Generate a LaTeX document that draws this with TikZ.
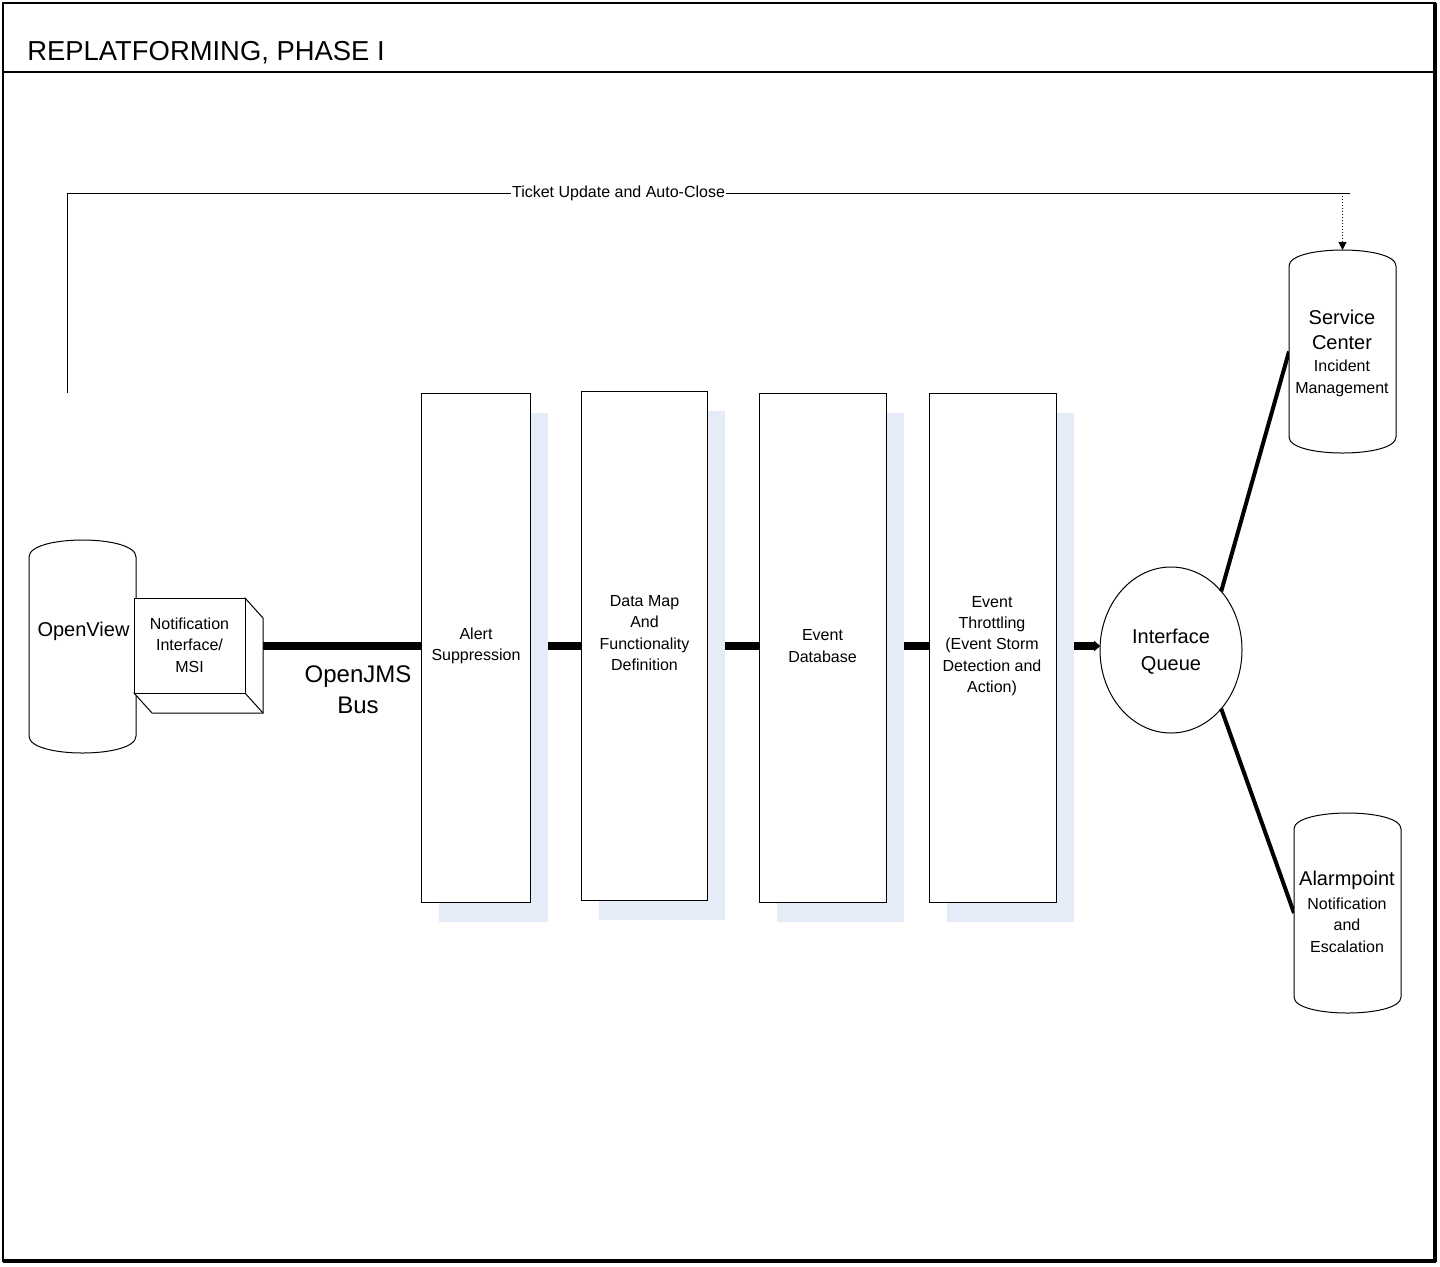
\documentclass[tikz,border=0pt]{standalone}
\usepackage{fontspec}
\setmainfont{Liberation Sans}
\usetikzlibrary{arrows.meta,shapes.geometric,calc}
\definecolor{shadowblue}{HTML}{E6ECF7}
\newcommand\fsm{\fontsize{8}{10.7}\selectfont}
\newcommand\fmd{\fontsize{10}{12.5}\selectfont}
\newcommand\fbg{\fontsize{12}{15.5}\selectfont}
\newcommand\fttl{\fontsize{13.7}{16}\selectfont}
\newcommand\mycyl[2]{\draw[thinline,fill=white] ($(#1.north west)+(0,#2)$) .. controls ($(#1.north west)+(0,-#2/3)$) and ($(#1.north east)+(0,-#2/3)$) .. ($(#1.north east)+(0,#2)$) -- ($(#1.south east)+(0,-#2)$) .. controls ($(#1.south east)+(0,#2/3)$) and ($(#1.south west)+(0,#2/3)$) .. ($(#1.south west)+(0,-#2)$) -- cycle;}
\begin{document}
\begin{tikzpicture}[x=0.5pt,y=-0.5pt,
  thinline/.style={line width=0.5pt,draw=black},
  ghost/.style={rectangle,inner sep=0pt,outer sep=0pt},
  stage/.style={rectangle,draw=black,line width=0.5pt,fill=white,inner sep=0pt,outer sep=0pt,minimum height=254.5pt},
  shade/.style={fill=shadowblue,draw=none},
  bus/.style={line width=4pt,draw=black},
  link/.style={line width=2pt,draw=black},
  smalltext/.style={font=\fsm,align=center,inner sep=0pt},
  midtext/.style={font=\fmd,align=center,inner sep=0pt}]
\useasboundingbox (0,0) rectangle (1440,1266);
% frame
\draw[line width=1pt] (3,3) rectangle (1435,1261);
\draw[line width=2pt] (1435,3) -- (1435,1262);
\draw[line width=2pt] (3,1261) -- (1436,1261);
\draw[line width=1.2pt] (3,72) -- (1435,72);
\node[anchor=base west,font=\fttl,inner sep=0pt] (title) at (27,60) {REPLATFORMING, PHASE I};

% stage boxes (positions only)
\node[stage,minimum width=54.5pt] (b1) at (475.5,647.5) {};
\node[stage,minimum width=63pt] (b2) at (644,645.5) {};
\node[stage,minimum width=63.5pt] (b3) at (822.5,647.5) {};
\node[stage,minimum width=63.5pt] (b4) at (992.5,647.5) {};
% cylinders and queue
\node[ghost,minimum width=53.5pt,minimum height=106.5pt] (ov) at (82.5,646.5) {};
\node[ghost,minimum width=55.5pt,minimum height=47.5pt] (nb) at (189.5,645.5) {};
\node[ghost,minimum width=53.5pt,minimum height=101.5pt] (sc) at (1342.5,351.5) {};
\node[ghost,minimum width=53.5pt,minimum height=100pt] (ap) at (1347.5,913) {};
\node[ellipse,draw=black,line width=0.5pt,fill=white,minimum width=71pt,minimum height=83pt,inner sep=0pt,outer sep=0pt] (iq) at (1171,650) {};

% connectors (drawn under the shapes)
\draw[bus] (nb.east |- 0,646) -- (b1.west |- 0,646);
\draw[bus] (b1.east |- 0,646) -- (b2.west |- 0,646);
\draw[bus] (b2.east |- 0,646) -- (b3.west |- 0,646);
\draw[bus] (b3.east |- 0,646) -- (b4.west |- 0,646);
\draw[bus,-{Triangle[length=3pt,width=5pt]}] (b4.east |- 0,646) -- (iq.west |- 0,646);
\draw[link] (iq.north east) -- (sc.west);
\draw[link] (iq.south east) -- (ap.west);

% shadows and boxes
\foreach \b in {b1,b2,b3,b4}{
  \fill[shade] ($(\b.north west)+(18,20)$) rectangle ($(\b.south east)+(18,20)$);
}
\foreach \b in {b1,b2,b3,b4}{
  \draw[thinline,fill=white] (\b.north west) rectangle (\b.south east);
}
% redraw bus segments over shadows where visible
\draw[bus] ($(b1.east |- 0,646)+(18,0)$) -- (b2.west |- 0,646);
\draw[bus] ($(b2.east |- 0,646)+(18,0)$) -- (b3.west |- 0,646);
\draw[bus] ($(b3.east |- 0,646)+(18,0)$) -- (b4.west |- 0,646);
\draw[bus,-{Triangle[length=3pt,width=5pt]}] ($(b4.east |- 0,646)+(18,0)$) -- (iq.west |- 0,646);

% cylinders
\mycyl{ov}{17}
\mycyl{sc}{16}
\mycyl{ap}{16}
% 3D notification box
\draw[thinline,fill=white] (nb.north east) -- ++(18,20) -- ($(nb.south east)+(18,20)$) -- ($(nb.south west)+(18,20)$) -- (nb.south west) -- cycle;
\draw[thinline] (nb.south east) -- ++(18,20);
\draw[thinline,fill=white] (nb.north west) rectangle (nb.south east);

% ticket update loop
\coordinate (tk0) at (67,393);
\coordinate (tk1) at (67,193);
\coordinate (tk2) at (1350,193);
\coordinate (tk3) at (1342.5,193);
\draw[thinline] (tk0) -- (tk1) -- (tk2);
\draw[line width=0.5pt,densely dotted,-{Triangle[length=4pt,width=4pt]}] (tk3) -- (sc.north);
\node[smalltext,fill=white,inner xsep=0.5pt,inner ysep=1pt] (tklbl) at (618.5,193) {Ticket Update and Auto-Close};

% texts
\node[midtext] (ovt) at (83.5,631) {OpenView};
\node[smalltext] (nbt) at (189.5,645) {Notification\\Interface/\\MSI};
\node[font=\fbg,align=center,inner sep=0pt] (bust) at (358,690) {OpenJMS\\Bus};
\node[smalltext] (b1t) at (476,646) {Alert\\Suppression};
\node[smalltext] (b2t) at (644.5,633) {Data Map\\And\\Functionality\\Definition};
\node[smalltext] (b3t) at (822.5,646) {Event\\Database};
\node[smalltext] (b4t) at (992,646) {Event\\Throttling\\(Event Storm\\Detection and\\Action)};
\node[font=\fontsize{10}{13.5}\selectfont,align=center,inner sep=0pt] (iqt) at (1171,651.5) {Interface\\Queue};
\node[midtext] (sct1) at (1342,329.5) {Service\\Center};
\node[font=\fontsize{8}{11}\selectfont,align=center,inner sep=0pt] (sct2) at (1342,378) {Incident\\Management};
\node[midtext] (apt1) at (1347,880) {Alarmpoint};
\node[smalltext] (apt2) at (1347,925) {Notification\\and\\Escalation};
\end{tikzpicture}
\end{document}
